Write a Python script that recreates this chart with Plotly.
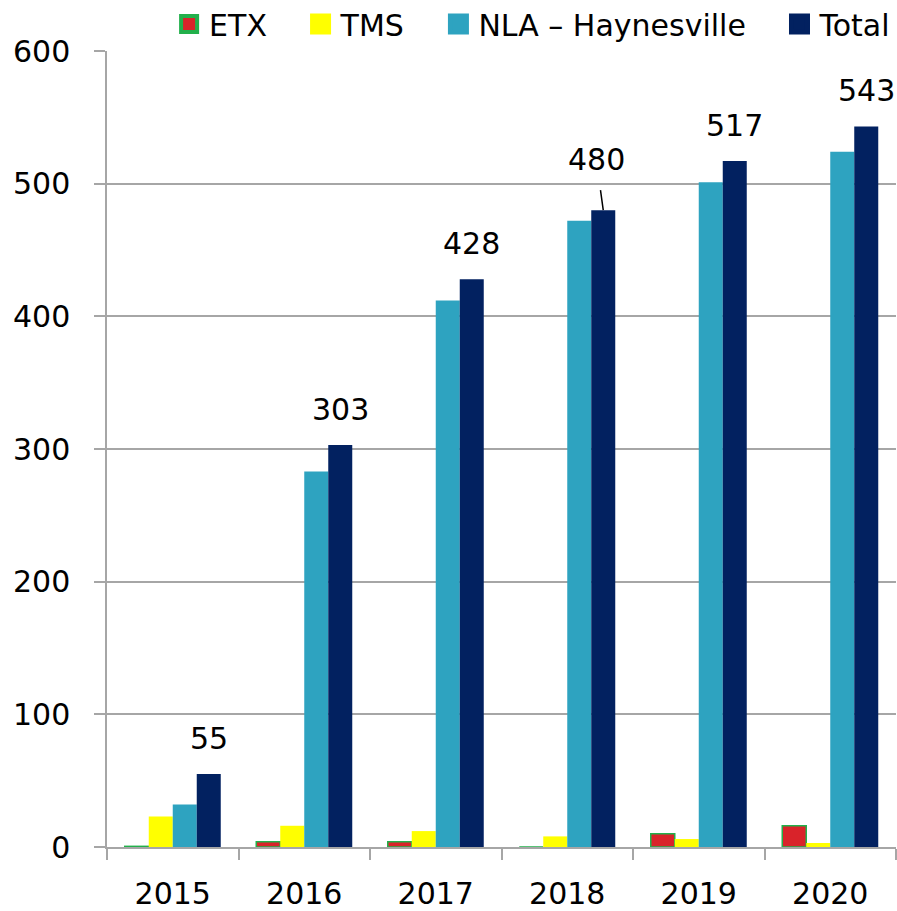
import plotly.graph_objects as go

years = ["2015", "2016", "2017", "2018", "2019", "2020"]
etx = [0.5, 4, 4, 0, 10, 16]
tms = [23, 16, 12, 8, 6, 3]
nla = [32, 283, 412, 472, 501, 524]
total = [55, 303, 428, 480, 517, 543]
y_ticks = [0, 100, 200, 300, 400, 500, 600]

FONT = "DejaVu Sans"
FS = 30
GRID = "#A6A6A6"
PAD = "\u00a0\u00a0\u00a0"

series = [
    ("ETX", etx, "#D9232A", "#22B04B"),
    ("TMS", tms, "#FFFF00", None),
    ("NLA \u2013 Haynesville", nla, "#2EA3C0", None),
    ("Total", total, "#022160", None),
]

fig = go.Figure()
for name, vals, col, edge in series:
    ln = dict(color=edge, width=1.5) if edge else dict(width=0)
    fig.add_trace(go.Bar(x=years, y=vals, name=name, marker=dict(color=col, line=ln), showlegend=False))
for k, (name, vals, col, edge) in enumerate(series):
    label = name if k == len(series) - 1 else name + PAD
    ln = dict(color=edge, width=4) if edge else dict(color=col, width=6)
    fig.add_trace(go.Scatter(x=[None], y=[None], mode="markers", name=label,
                             marker=dict(symbol="square", size=16, color=col, line=ln)))

for i, v in enumerate(total):
    if years[i] == "2018":
        fig.add_annotation(x=i, y=v, text=str(v), showarrow=True, arrowhead=0, arrowwidth=1.5,
                           arrowcolor="black", ax=-7, ay=-51, xshift=36, startstandoff=12,
                           font=dict(family=FONT, size=FS, color="black"))
    else:
        fig.add_annotation(x=i, y=v, text=str(v), showarrow=False, xshift=36, yshift=36,
                           yanchor="middle", font=dict(family=FONT, size=FS, color="black"))

fig.update_layout(
    width=897, height=911,
    margin=dict(l=107, r=1, t=51, b=64, autoexpand=False),
    paper_bgcolor="white", plot_bgcolor="white",
    barmode="group", bargap=0.27, bargroupgap=0,
    font=dict(family=FONT, size=FS, color="black"),
    legend=dict(orientation="h", xref="container", x=0.999, xanchor="right",
                yref="container", y=0.9737, yanchor="middle",
                font=dict(family=FONT, size=FS), itemsizing="trace", traceorder="normal",
                bgcolor="rgba(0,0,0,0)", tracegroupgap=0),
    xaxis=dict(type="category", range=[-0.5, 5.5], showline=True, linecolor=GRID, linewidth=1.5,
               ticks="outside", tickson="boundaries", ticklen=11, tickcolor=GRID, tickwidth=1.5,
               tickfont=dict(family=FONT, size=FS), showgrid=False, ticklabelstandoff=19,
               automargin=False),
    yaxis=dict(range=[0, 600], tickvals=y_ticks, showline=True, linecolor=GRID, linewidth=1.5,
               ticks="outside", ticklen=11, tickcolor=GRID, tickwidth=1.5,
               showgrid=True, gridcolor=GRID, gridwidth=1.5, zeroline=False,
               tickfont=dict(family=FONT, size=FS), ticklabelstandoff=18, automargin=False),
)

fig.write_html("out.html", config={"displayModeBar": False},
               post_script="document.body.style.margin='0';document.body.style.overflow='hidden';")
